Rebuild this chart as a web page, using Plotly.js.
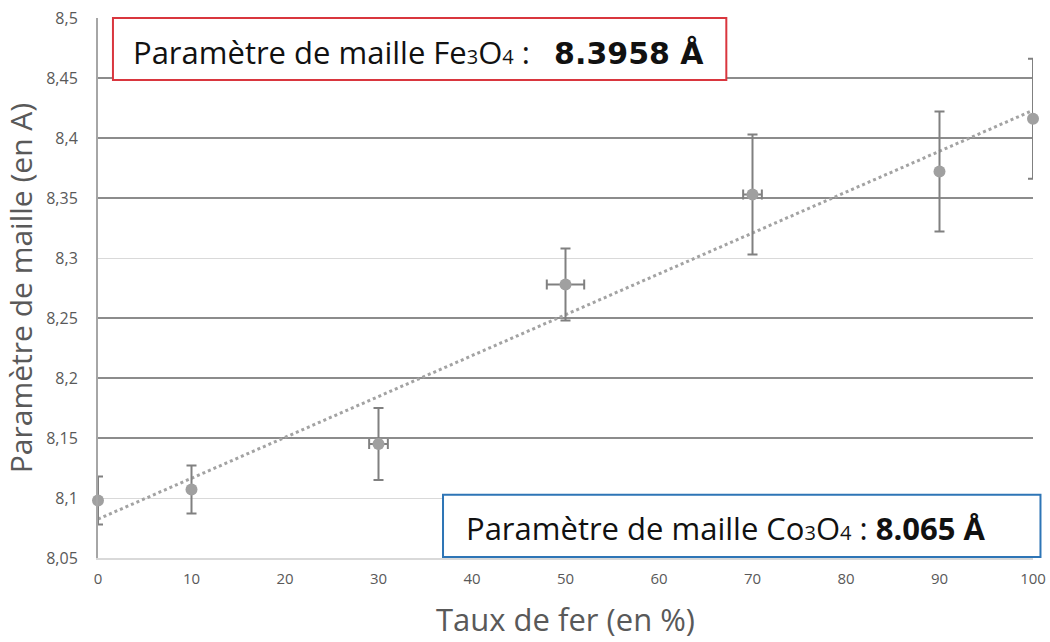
<!DOCTYPE html>
<html>
<head>
<meta charset="utf-8">
<script src="https://cdn.plot.ly/plotly-3.0.1.min.js"></script>
<style>html,body{margin:0;padding:0;background:#fff;}#chart{width:1050px;height:642px;}</style>
</head>
<body>
<div id="chart"></div>
<script>
// Data
const tauxFer = [0, 10, 30, 50, 70, 90, 100];
const parametre = [8.098, 8.107, 8.145, 8.278, 8.353, 8.372, 8.416];
const errParam = [0.02, 0.02, 0.03, 0.03, 0.05, 0.05, 0.05];
const errTaux = [0, 0, 1, 2, 1, 0, 0];
const yTicks = [8.05, 8.1, 8.15, 8.2, 8.25, 8.3, 8.35, 8.4, 8.45, 8.5];
const darkGridTicks = [8.15, 8.2, 8.25, 8.35, 8.4, 8.45];
const xTicks = [0, 10, 20, 30, 40, 50, 60, 70, 80, 90, 100];

// Linear trendline (least squares) from the data
const n = tauxFer.length;
const mx = tauxFer.reduce((a, b) => a + b, 0) / n;
const my = parametre.reduce((a, b) => a + b, 0) / n;
let sxy = 0, sxx = 0;
for (let i = 0; i < n; i++) { sxy += (tauxFer[i] - mx) * (parametre[i] - my); sxx += (tauxFer[i] - mx) ** 2; }
const slope = sxy / sxx, intercept = my - slope * mx;
const trendX = [0, 100];
const trendY = trendX.map(x => intercept + slope * x);

const narrow = '"Liberation Sans Narrow", "Open Sans", sans-serif';
const boxFont = '"Open Sans", "Liberation Sans", sans-serif';

const traces = [
  {
    x: trendX, y: trendY, type: 'scatter', mode: 'lines', yaxis: 'y',
    line: {color: '#a3a3a3', width: 3, dash: 'dot'}, hoverinfo: 'skip', showlegend: false
  },
  {
    x: tauxFer, y: parametre, type: 'scatter', mode: 'markers', yaxis: 'y2',
    cliponaxis: false,
    marker: {color: '#a0a0a0', size: 12},
    error_y: {type: 'data', array: errParam, visible: true, color: '#808080', thickness: 2, width: 5},
    error_x: {type: 'data', array: errTaux, visible: true, color: '#808080', thickness: 2, width: 5},
    showlegend: false
  }
];

const layout = {
  width: 1050, height: 642,
  margin: {l: 98, r: 17, t: 18, b: 84},
  paper_bgcolor: '#ffffff', plot_bgcolor: '#ffffff',
  showlegend: false,
  xaxis: {
    range: [0, 100], tickvals: xTicks, ticktext: xTicks.map(String),
    showgrid: false, zeroline: false, showline: true, linecolor: '#d9d9d9', linewidth: 2,
    ticks: '', ticklabelstandoff: 6,
    tickfont: {family: narrow, size: 15, color: '#595959'},
    title: {text: 'Taux de fer (en %)', font: {family: boxFont, size: 31, color: '#595959'}, standoff: 22}
  },
  yaxis: {
    range: [8.05, 8.5], tickvals: yTicks, ticktext: yTicks.map(v => String(v).replace('.', ',')),
    showgrid: true, gridcolor: '#d9d9d9', gridwidth: 1,
    zeroline: false, showline: true, linecolor: '#a6a6a6', linewidth: 2,
    ticks: '', ticklabelstandoff: 15,
    tickfont: {family: boxFont, size: 16, color: '#595959'},
    title: {text: 'Paramètre de maille (en A)', font: {family: boxFont, size: 30, color: '#595959'}, standoff: 6}
  },
  yaxis2: {
    range: [8.05, 8.5], overlaying: 'y', side: 'left', tickvals: darkGridTicks,
    showgrid: true, gridcolor: '#8c8c8c', gridwidth: 2,
    showticklabels: false, ticks: '', zeroline: false, showline: false
  },
  shapes: [
    {type: 'rect', xref: 'paper', yref: 'paper', x0: 0.016, x1: 0.672, y0: 0.885, y1: 1.0,
     line: {color: '#d9363e', width: 2}, fillcolor: '#ffffff', layer: 'above'},
    {type: 'rect', xref: 'paper', yref: 'paper', x0: 0.369, x1: 1.008, y0: 0.002, y1: 0.117,
     line: {color: '#2e75b6', width: 2}, fillcolor: '#ffffff', layer: 'above'}
  ],
  annotations: [
    {xref: 'paper', yref: 'paper', x: 0.0353, y: 0.937, xanchor: 'left', yanchor: 'middle', showarrow: false,
     font: {family: boxFont, size: 31, color: '#111111'},
     text: 'Paramètre de maille Fe<span style="font-size:20px">3</span>O<span style="font-size:20px">4</span> :&nbsp;&nbsp; <b><span style="font-family:DejaVu Sans, Arial, sans-serif;font-size:30px">8.3958 Å</span></b>'},
    {xref: 'paper', yref: 'paper', x: 0.3915, y: 0.055, xanchor: 'left', yanchor: 'middle', showarrow: false,
     font: {family: boxFont, size: 31, color: '#111111'},
     text: 'Paramètre de maille Co<span style="font-size:20px">3</span>O<span style="font-size:20px">4</span> : <b>8.065 Å</b>'}
  ]
};

Plotly.newPlot('chart', traces, layout, {displayModeBar: false, staticPlot: true});
</script>
</body>
</html>
